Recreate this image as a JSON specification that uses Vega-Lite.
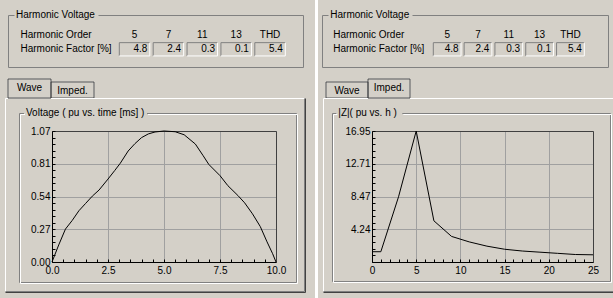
{
  "$schema": "https://vega.github.io/schema/vega-lite/v6.json",
  "padding": 0,
  "autosize": {"type": "pad"},
  "background": "#d4d0c8",
  "bounds": "flush",
  "columns": 2,
  "spacing": {"row": 12, "column": 19},
  "align": "each",
  "concat": [
    {
      "width": 295, "height": 52,
      "view": {"stroke": "#808080", "strokeDash": [6, 84, 2000]},
      "title": {"text": "Harmonic Voltage", "anchor": "start", "frame": "group", "dx": 8, "offset": -9.5, "baseline": "middle"},
      "data": {"values": [{"col": "5", "factor": 4.8}, {"col": "7", "factor": 2.4}, {"col": "11", "factor": 0.3}, {"col": "13", "factor": 0.1}, {"col": "THD", "factor": 5.4}]},
      "encoding": {
        "x": {"field": "col", "type": "nominal", "sort": null, "scale": {"domain": ["5", "7", "11", "13", "THD"], "range": [111.3, 277.3], "paddingInner": 0.1, "paddingOuter": 0}, "axis": null}
      },
      "layer": [
        {"mark": {"type": "rect", "filled": false, "stroke": "#808080", "strokeDash": [30.5, 43.8, 13.3]},
         "encoding": {"y": {"datum": "Harmonic Factor [%]", "type": "nominal", "scale": {"domain": ["Harmonic Order", "Harmonic Factor [%]"], "paddingInner": 0.07, "paddingOuter": 0.853, "align": 0.547},
           "axis": {"orient": "left", "ticks": false, "domain": false, "grid": false, "labelAlign": "left", "labelPadding": -12, "labelBaseline": "middle", "title": null, "labelLimit": 0}}}},
        {"mark": {"type": "rect", "filled": false, "stroke": "#ffffff", "strokeDash": [0, 30.5, 43.8, 13.3]},
         "encoding": {"y": {"datum": "Harmonic Factor [%]", "type": "nominal"}}},
        {"mark": {"type": "text"},
         "encoding": {"y": {"datum": "Harmonic Order", "type": "nominal"}, "text": {"field": "col"}}},
        {"mark": {"type": "text", "align": "right", "dx": -2.5},
         "encoding": {"x": {"field": "col", "type": "nominal", "sort": null, "bandPosition": 1}, "y": {"datum": "Harmonic Factor [%]", "type": "nominal"}, "text": {"field": "factor", "format": ".1f"}}}
      ]
    },
    {
      "width": 286, "height": 52,
      "view": {"stroke": "#808080", "strokeDash": [6, 84, 2000]},
      "title": {"text": "Harmonic Voltage", "anchor": "start", "frame": "group", "dx": 8.3, "offset": -9.5, "baseline": "middle"},
      "data": {"values": [{"col": "5", "factor": 4.8}, {"col": "7", "factor": 2.4}, {"col": "11", "factor": 0.3}, {"col": "13", "factor": 0.1}, {"col": "THD", "factor": 5.4}]},
      "encoding": {
        "x": {"field": "col", "type": "nominal", "sort": null, "scale": {"domain": ["5", "7", "11", "13", "THD"], "range": [111.3, 262.3], "paddingInner": 0.1, "paddingOuter": 0}, "axis": null}
      },
      "layer": [
        {"mark": {"type": "rect", "filled": false, "stroke": "#808080", "strokeDash": [27.7, 41.0, 13.3]},
         "encoding": {"y": {"datum": "Harmonic Factor [%]", "type": "nominal", "scale": {"domain": ["Harmonic Order", "Harmonic Factor [%]"], "paddingInner": 0.07, "paddingOuter": 0.853, "align": 0.547},
           "axis": {"orient": "left", "ticks": false, "domain": false, "grid": false, "labelAlign": "left", "labelPadding": -10.7, "labelBaseline": "middle", "title": null, "labelLimit": 0}}}},
        {"mark": {"type": "rect", "filled": false, "stroke": "#ffffff", "strokeDash": [0, 27.7, 41.0, 13.3]},
         "encoding": {"y": {"datum": "Harmonic Factor [%]", "type": "nominal"}}},
        {"mark": {"type": "text"},
         "encoding": {"y": {"datum": "Harmonic Order", "type": "nominal"}, "text": {"field": "col"}}},
        {"mark": {"type": "text", "align": "right", "dx": -2.5},
         "encoding": {"x": {"field": "col", "type": "nominal", "sort": null, "bandPosition": 1}, "y": {"datum": "Harmonic Factor [%]", "type": "nominal"}, "text": {"field": "factor", "format": ".1f"}}}
      ]
    },
    {
      "width": 86, "height": 19,
      "data": {"values": [{"tab": "Wave", "state": "selected"}, {"tab": "Imped.", "state": "unselected"}]},
      "encoding": {"x": {"field": "tab", "type": "nominal", "sort": null, "scale": {"domain": ["Wave", "Imped."], "range": [0, 86], "paddingInner": 0, "paddingOuter": 0}, "axis": null}},
      "resolve": {"scale": {"strokeDash": "independent"}},
      "layer": [
        {"mark": {"type": "rect", "filled": false, "stroke": "#ffffff"},
         "encoding": {"y": {"field": "state", "type": "nominal", "scale": {"type": "point", "domain": ["selected", "unselected"], "range": [0, 3], "padding": 0}, "axis": null},
           "y2": {"value": "height"},
           "strokeDash": {"field": "state", "type": "nominal", "scale": {"domain": ["selected", "unselected"], "range": [[43, 62, 19], [43, 59, 16]]}, "legend": null}}},
        {"mark": {"type": "rect", "filled": false, "stroke": "#404040"},
         "encoding": {"y": {"field": "state", "type": "nominal"},
           "y2": {"value": "height"},
           "strokeDash": {"field": "state", "type": "nominal", "scale": {"domain": ["selected", "unselected"], "range": [[0, 43, 19, 1000], [0, 43, 16, 1000]]}, "legend": null}}},
        {"mark": {"type": "text", "baseline": "middle", "dy": 8.5}, "encoding": {"y": {"field": "state", "type": "nominal"}, "text": {"field": "tab"}}}
      ]
    },
    {
      "width": 88, "height": 19,
      "data": {"values": [{"tab": "Wave", "state": "unselected"}, {"tab": "Imped.", "state": "selected"}]},
      "encoding": {"x": {"field": "tab", "type": "nominal", "sort": null, "scale": {"domain": ["Wave", "Imped."], "range": [4, 88], "paddingInner": 0, "paddingOuter": 0}, "axis": null}},
      "resolve": {"scale": {"strokeDash": "independent"}},
      "layer": [
        {"mark": {"type": "rect", "filled": false, "stroke": "#ffffff"},
         "encoding": {"y": {"field": "state", "type": "nominal", "scale": {"type": "point", "domain": ["selected", "unselected"], "range": [0, 3], "padding": 0}, "axis": null},
           "y2": {"value": "height"},
           "strokeDash": {"field": "state", "type": "nominal", "scale": {"domain": ["selected", "unselected"], "range": [[42, 61, 19], [42, 58, 16]]}, "legend": null}}},
        {"mark": {"type": "rect", "filled": false, "stroke": "#404040"},
         "encoding": {"y": {"field": "state", "type": "nominal"},
           "y2": {"value": "height"},
           "strokeDash": {"field": "state", "type": "nominal", "scale": {"domain": ["selected", "unselected"], "range": [[0, 42, 19, 1000], [0, 42, 16, 1000]]}, "legend": null}}},
        {"mark": {"type": "text", "baseline": "middle", "dy": 8.5}, "encoding": {"y": {"field": "state", "type": "nominal"}, "text": {"field": "tab"}}}
      ]
    },
    {"width": 1, "height": 9, "data": {"values": []}, "mark": "rect", "encoding": {}},
    {"width": 1, "height": 9, "data": {"values": []}, "mark": "rect", "encoding": {}},
    {
      "width": 268, "height": 131,
      "title": {"text": "Voltage ( pu vs. time [ms] )", "anchor": "start", "frame": "group", "dx": 18, "offset": -122.5, "baseline": "middle"},
      "resolve": {"axis": {"x": "independent", "y": "independent"}},
      "layer": [
        {"data": {"values": [{}]},
         "mark": {"type": "rect", "fill": "transparent"},
         "encoding": {
           "x": {"datum": -2.27679, "type": "quantitative", "scale": {"domain": [0, 10], "range": [44, 268], "nice": false, "zero": false},
             "axis": {"orient": "bottom", "values": [0, 0.5, 1, 1.5, 2, 2.5, 3, 3.5, 4, 4.5, 5, 5.5, 6, 6.5, 7, 7.5, 8, 8.5, 9, 9.5, 10], "labels": false, "grid": false, "domain": false, "ticks": true, "tickSize": -3, "tickColor": "#000000", "title": null}},
           "x2": {"datum": 25.08929},
           "y": {"datum": 2.148, "type": "quantitative", "scale": {"domain": [0, 1.074], "nice": false, "zero": false},
             "axis": {"orient": "left", "offset": -44, "values": [0, 0.0537, 0.1074, 0.1611, 0.2148, 0.2685, 0.3222, 0.3759, 0.4296, 0.4833, 0.537, 0.5907, 0.6444, 0.6981, 0.7518, 0.8055, 0.8592, 0.9129, 0.9666, 1.0203, 1.074], "labels": false, "grid": false, "domain": false, "ticks": true, "tickSize": -3, "tickColor": "#000000", "title": null}},
           "y2": {"datum": -0.29515}
         }},
        {"data": {"values": [{}]},
         "mark": {"type": "rect", "fill": "#ffffff"},
         "encoding": {"x": {"datum": 11.74107, "type": "quantitative", "axis": null}, "x2": {"datum": 11.875}, "y": {"datum": 2.148, "type": "quantitative", "axis": null}, "y2": {"datum": -0.29515}}},
        {"data": {"values": [{}]},
         "mark": {"type": "rect", "filled": false, "stroke": "#ffffff", "strokeDash": [2.5, 43, 253.5, 492, 193]},
         "encoding": {
           "x": {"datum": -2.07589, "type": "quantitative", "axis": {"orient": "top", "domain": true, "domainColor": "#404040", "labels": false, "ticks": false, "grid": false, "title": null}},
           "x2": {"datum": 11.27232},
           "y": {"datum": 1.34045, "type": "quantitative", "axis": {"orient": "right", "domain": true, "domainColor": "#404040", "labels": false, "ticks": false, "grid": false, "title": null}},
           "y2": {"datum": -0.24185}}},
        {"data": {"values": [{}]},
         "mark": {"type": "rect", "filled": false, "stroke": "#808080", "strokeDash": [0, 299, 492, 193]},
         "encoding": {"x": {"datum": -2.07589, "type": "quantitative", "axis": null}, "x2": {"datum": 11.27232}, "y": {"datum": 1.34045, "type": "quantitative", "axis": null}, "y2": {"datum": -0.24185}}},
        {"data": {"values": [{}]},
         "mark": {"type": "rect", "filled": false, "stroke": "#404040", "strokeDash": [0, 300, 494, 194], "x2Offset": 1, "y2Offset": 1},
         "encoding": {"x": {"datum": -2.07589, "type": "quantitative", "axis": null}, "x2": {"datum": 11.27232}, "y": {"datum": 1.34045, "type": "quantitative", "axis": null}, "y2": {"datum": -0.24185}}},
        {"data": {"values": [{}]},
         "mark": {"type": "rect", "filled": false, "stroke": "#808080", "strokeDash": [4.5, 123, 3000]},
         "encoding": {"x": {"datum": -1.45089, "type": "quantitative", "axis": null}, "x2": {"datum": 10.91518}, "y": {"datum": 1.21747, "type": "quantitative", "axis": null}, "y2": {"datum": -0.16807}}},
        {"data": {"values": [{}]},
         "mark": {"type": "rect", "filled": false, "stroke": "#ffffff", "strokeDash": [4.5, 123, 3000], "xOffset": 1, "x2Offset": 1, "yOffset": 1, "y2Offset": 1},
         "encoding": {"x": {"datum": -1.45089, "type": "quantitative", "axis": null}, "x2": {"datum": 10.91518}, "y": {"datum": 1.21747, "type": "quantitative", "axis": null}, "y2": {"datum": -0.16807}}},
        {"data": {"values": [
           {"t": 0, "v": 0}, {"t": 0.3, "v": 0.14}, {"t": 0.6, "v": 0.27}, {"t": 0.9, "v": 0.34}, {"t": 1.2, "v": 0.42},
           {"t": 1.5, "v": 0.48}, {"t": 1.8, "v": 0.54}, {"t": 2.1, "v": 0.59}, {"t": 2.5, "v": 0.68}, {"t": 2.8, "v": 0.75},
           {"t": 3.05, "v": 0.81}, {"t": 3.4, "v": 0.91}, {"t": 3.7, "v": 0.97}, {"t": 4.0, "v": 1.02}, {"t": 4.3, "v": 1.05},
           {"t": 4.6, "v": 1.066}, {"t": 5.0, "v": 1.074}, {"t": 5.5, "v": 1.068}, {"t": 5.9, "v": 1.043}, {"t": 6.4, "v": 0.967},
           {"t": 6.75, "v": 0.871}, {"t": 7.0, "v": 0.8}, {"t": 7.5, "v": 0.708}, {"t": 7.85, "v": 0.626}, {"t": 8.3, "v": 0.545},
           {"t": 8.6, "v": 0.485}, {"t": 8.95, "v": 0.395}, {"t": 9.3, "v": 0.29}, {"t": 9.6, "v": 0.165}, {"t": 9.85, "v": 0.068},
           {"t": 10, "v": 0}]},
         "mark": {"type": "line", "color": "#000000", "strokeWidth": 1},
         "encoding": {
           "x": {"field": "t", "type": "quantitative", "scale": {"domain": [0, 10], "range": [44, 268], "nice": false, "zero": false},
             "axis": {"orient": "bottom", "values": [0, 2.5, 5, 7.5, 10], "format": ".1f", "grid": true, "gridColor": "#a0a0a0", "ticks": false, "domain": true, "domainColor": "#000000", "labelPadding": 3, "labelFlush": false, "labelOverlap": false, "title": null}},
           "y": {"field": "v", "type": "quantitative", "scale": {"domain": [0, 1.074], "nice": false, "zero": false},
             "axis": {"orient": "left", "offset": -44, "values": [0, 0.2685, 0.537, 0.8055, 1.074], "format": ".2f", "grid": true, "gridColor": "#a0a0a0", "ticks": false, "domain": true, "domainColor": "#000000", "labelPadding": 2, "labelFlush": false, "labelOverlap": false, "title": null}}
         }}
      ]
    },
    {
      "width": 271, "height": 131,
      "title": {"text": "|Z|( pu vs. h )", "anchor": "start", "frame": "group", "dx": 16.3, "offset": -122, "baseline": "middle"},
      "resolve": {"axis": {"x": "independent", "y": "independent"}},
      "layer": [
        {"data": {"values": [{}]},
         "mark": {"type": "rect", "fill": "transparent"},
         "encoding": {
           "x": {"datum": -41.8552, "type": "quantitative", "scale": {"domain": [0, 25], "range": [50, 271], "nice": false, "zero": false},
             "axis": {"orient": "bottom", "values": [0, 1, 2, 3, 4, 5, 6, 7, 8, 9, 10, 11, 12, 13, 14, 15, 16, 17, 18, 19, 20, 21, 22, 23, 24, 25], "labels": false, "grid": false, "domain": false, "ticks": true, "tickSize": -3, "tickColor": "#000000", "title": null}},
           "x2": {"datum": 27.2624},
           "y": {"datum": 33.7666, "type": "quantitative", "scale": {"domain": [0, 16.948], "nice": false, "zero": false},
             "axis": {"orient": "left", "offset": -50, "values": [0, 0.8474, 1.6948, 2.5422, 3.3896, 4.237, 5.0844, 5.9318, 6.7792, 7.6266, 8.474, 9.3214, 10.1688, 11.0162, 11.8636, 12.711, 13.5584, 14.4058, 15.2532, 16.1006, 16.948], "labels": false, "grid": false, "domain": false, "ticks": true, "tickSize": -3, "tickColor": "#000000", "title": null}},
           "y2": {"datum": -4.5281}
         }},
        {"data": {"values": [{}]},
         "mark": {"type": "rect", "filled": false, "stroke": "#ffffff", "strokeDash": [44.5, 42, 203.5, 483, 193]},
         "encoding": {
           "x": {"datum": -5.48643, "type": "quantitative", "axis": {"orient": "top", "domain": true, "domainColor": "#404040", "labels": false, "ticks": false, "grid": false, "title": null}},
           "x2": {"datum": 27.319},
           "y": {"datum": 21.15265, "type": "quantitative", "axis": {"orient": "right", "domain": true, "domainColor": "#404040", "labels": false, "ticks": false, "grid": false, "title": null}},
           "y2": {"datum": -3.81653}}},
        {"data": {"values": [{}]},
         "mark": {"type": "rect", "filled": false, "stroke": "#808080", "strokeDash": [0, 483, 290, 193]},
         "encoding": {"x": {"datum": -5.48643, "type": "quantitative", "axis": null}, "x2": {"datum": 27.319}, "y": {"datum": 21.15265, "type": "quantitative", "axis": null}, "y2": {"datum": -3.81653}}},
        {"data": {"values": [{}]},
         "mark": {"type": "rect", "filled": false, "stroke": "#404040", "strokeDash": [0, 484, 290, 194], "y2Offset": 1},
         "encoding": {"x": {"datum": -5.48643, "type": "quantitative", "axis": null}, "x2": {"datum": 27.319}, "y": {"datum": 21.15265, "type": "quantitative", "axis": null}, "y2": {"datum": -3.81653}}},
        {"data": {"values": [{}]},
         "mark": {"type": "rect", "filled": false, "stroke": "#808080", "strokeDash": [3.8, 66, 3000]},
         "encoding": {"x": {"datum": -4.46833, "type": "quantitative", "axis": null}, "x2": {"datum": 26.97964}, "y": {"datum": 19.21204, "type": "quantitative", "axis": null}, "y2": {"datum": -2.52279}}},
        {"data": {"values": [{}]},
         "mark": {"type": "rect", "filled": false, "stroke": "#ffffff", "strokeDash": [3.8, 66, 3000], "xOffset": 1, "x2Offset": 1, "yOffset": 1, "y2Offset": 1},
         "encoding": {"x": {"datum": -4.46833, "type": "quantitative", "axis": null}, "x2": {"datum": 26.97964}, "y": {"datum": 19.21204, "type": "quantitative", "axis": null}, "y2": {"datum": -2.52279}}},
        {"data": {"values": [
           {"h": 0, "z": 1.33}, {"h": 1, "z": 1.33}, {"h": 3, "z": 8.43}, {"h": 5, "z": 16.948}, {"h": 7, "z": 5.33},
           {"h": 9, "z": 3.31}, {"h": 11, "z": 2.6}, {"h": 13, "z": 2.05}, {"h": 15, "z": 1.65}, {"h": 17, "z": 1.42},
           {"h": 19, "z": 1.27}, {"h": 21, "z": 1.12}, {"h": 23, "z": 0.97}, {"h": 25, "z": 0.93}]},
         "mark": {"type": "line", "color": "#000000", "strokeWidth": 1},
         "encoding": {
           "x": {"field": "h", "type": "quantitative", "scale": {"domain": [0, 25], "range": [50, 271], "nice": false, "zero": false},
             "axis": {"orient": "bottom", "values": [0, 5, 10, 15, 20, 25], "format": "d", "grid": true, "gridColor": "#a0a0a0", "ticks": false, "domain": true, "domainColor": "#000000", "labelPadding": 3, "labelFlush": false, "labelOverlap": false, "title": null}},
           "y": {"field": "z", "type": "quantitative", "scale": {"domain": [0, 16.948], "nice": false, "zero": false},
             "axis": {"orient": "left", "offset": -50, "values": [4.237, 8.474, 12.711, 16.948], "format": ".2f", "grid": true, "gridColor": "#a0a0a0", "ticks": false, "domain": true, "domainColor": "#000000", "labelPadding": 2, "labelFlush": false, "labelOverlap": false, "title": null}}
         }}
      ]
    }
  ],
  "config": {
    "view": {"stroke": null},
    "font": "Liberation Sans",
    "text": {"font": "Liberation Sans", "fontSize": 10, "color": "#000000"},
    "axis": {"labelFont": "Liberation Sans", "labelFontSize": 10, "labelColor": "#000000", "gridOpacity": 1},
    "title": {"font": "Liberation Sans", "fontSize": 10, "fontWeight": "normal", "color": "#000000"}
  }
}
